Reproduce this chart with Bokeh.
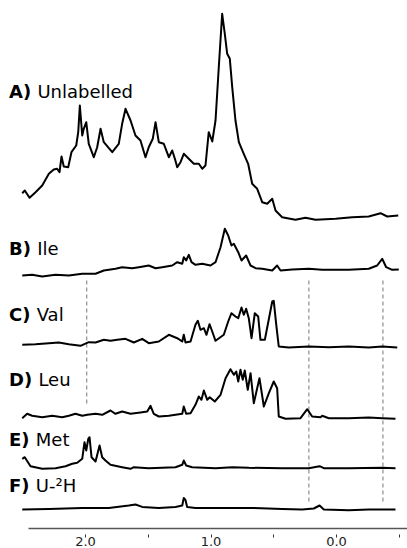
from bokeh.plotting import figure
from bokeh.models import Range1d, FixedTicker, Label, PrintfTickFormatter
from bokeh.embed import file_html
from bokeh.resources import INLINE

# ---------------- data (chemical shift in ppm, intensity) ----------------
ppm_A = [2.504, 2.484, 2.446, 2.398, 2.345, 2.292, 2.253, 2.226, 2.207, 2.191, 2.173, 2.138, 2.112, 2.074,
         2.058, 2.045, 2.026, 2.014, 1.994, 1.974, 1.934, 1.907, 1.880, 1.854, 1.787, 1.735, 1.708, 1.681,
         1.641, 1.602, 1.562, 1.522, 1.496, 1.464, 1.442, 1.416, 1.376, 1.336, 1.309, 1.288, 1.269, 1.243,
         1.217, 1.177, 1.137, 1.097, 1.070, 1.044, 1.018, 0.990, 0.964, 0.938, 0.911, 0.890, 0.871, 0.850,
         0.831, 0.805, 0.778, 0.739, 0.704, 0.672, 0.632, 0.592, 0.552, 0.512, 0.486, 0.433, 0.327, 0.247,
         0.167, 0.008, -0.125, -0.257, -0.351, -0.404, -0.492]
int_A = [25.3, 28, 20.7, 26.3, 33, 44.7, 49, 49.7, 46.3, 62, 52, 51.3, 66.3, 73,
         86.3, 113, 83, 89.7, 96.3, 74.7, 61.3, 71.3, 89.7, 76.3, 66.3, 74.7, 94.7, 109.7,
         98, 83, 78, 61.3, 71.3, 79.7, 96.3, 76.3, 74.7, 61.3, 68, 59.7, 51.3, 56.3,
         64.7, 59.7, 54.7, 54.7, 49.7, 53, 86.3, 77, 98, 151.3, 204.7, 184.7, 164.7, 159.7,
         131.3, 98, 76.3, 64.7, 54.7, 34.7, 29.7, 16.3, 14.7, 19.7, 8, 1.3, -1.3, 0.7,
         -1.3, -0.3, 1.3, 2, 5.3, 2, 3]

ppm_B = [2.504, 2.425, 2.345, 2.239, 2.133, 2.026, 1.920, 1.854, 1.761, 1.708, 1.628, 1.575, 1.496, 1.442,
         1.389, 1.309, 1.269, 1.229, 1.217, 1.198, 1.177, 1.155, 1.124, 1.070, 1.004, 0.964, 0.924, 0.890,
         0.863, 0.837, 0.818, 0.783, 0.757, 0.720, 0.685, 0.645, 0.592, 0.512, 0.473, 0.446, 0.353, 0.221,
         0.114, -0.098, -0.257, -0.324, -0.364, -0.396, -0.444, -0.496]
int_B = [-3, -2.3, -4, -2.3, -3, -1.3, -1.3, 2, 3.7, 5.3, 4.3, 5.3, 7, 4.3,
         5.3, 7, 10.3, 8.7, 15.3, 12, 17.7, 10.3, 7.7, 8.7, 7, 10.3, 25.3, 43.7,
         37, 27, 28.7, 20.3, 12, 17, 7, 4.3, 3.7, 2, 7, 2, 3, 3.7,
         2.7, 2.7, 3.7, 7, 13.7, 5.3, 2.7, 3]

ppm_C = [2.504, 2.398, 2.292, 2.213, 2.133, 2.040, 1.974, 1.920, 1.854, 1.801, 1.747, 1.681, 1.615, 1.548,
         1.496, 1.416, 1.336, 1.269, 1.229, 1.217, 1.203, 1.163, 1.124, 1.105, 1.084, 1.057, 1.036, 1.012,
         0.990, 0.964, 0.898, 0.863, 0.837, 0.805, 0.783, 0.757, 0.739, 0.720, 0.699, 0.677, 0.651, 0.624,
         0.606, 0.571, 0.512, 0.500, 0.480, 0.460, 0.380, 0.221, 0.061, -0.098, -0.257, -0.364, -0.484]
int_C = [1.7, 2.3, 3.3, 4, 2.3, 0.7, 4.3, 4, 6.7, 5.7, 6.7, 7.7, 4, 7.7,
         3.3, 5, 11.7, 8.3, 5, 11.7, 4, 5, 21.7, 25.7, 16.7, 18.3, 11.7, 22.3,
         15, 5.7, 11.7, 25, 33.3, 30, 28.3, 39, 31.7, 37.7, 28.3, 8.3, 33.3, 30,
         6.7, 6.7, 45, 45.7, 21.7, 0, -1, 0, -0.7, 0, -1, 0, -1]

ppm_D = [2.504, 2.465, 2.425, 2.345, 2.265, 2.186, 2.133, 2.080, 2.026, 1.986, 1.920, 1.867, 1.801, 1.761,
         1.708, 1.641, 1.562, 1.508, 1.482, 1.456, 1.416, 1.336, 1.229, 1.217, 1.198, 1.163, 1.124, 1.097,
         1.076, 1.057, 1.030, 1.010, 0.970, 0.924, 0.884, 0.845, 0.818, 0.799, 0.783, 0.765, 0.747, 0.731,
         0.707, 0.685, 0.659, 0.614, 0.579, 0.539, 0.500, 0.473, 0.460, 0.406, 0.287, 0.233, 0.194, 0.127,
         0.114, 0.061, -0.098, -0.257, -0.364, -0.470]
int_D = [0.3, 4.7, 2.7, 1.3, 2.7, 1.3, 2.7, 4.7, 2.7, 3.7, 4.7, 3.7, 8, 4.7,
         7, 4.7, 6, 7, 12.7, 4.7, 2, 2.7, 4.7, 12, 4.7, 5.3, 13.7, 22,
         18.7, 28, 18.7, 21.3, 17, 23.7, 40.3, 49.3, 43.7, 47, 37, 48.7, 38.7, 48,
         28.7, 45.3, 15.3, 40.3, 12, 25.3, 37, 30.3, 2, -0.3, 0.3, 9.3, 2, 1.3,
         2.7, 0.3, 0.3, 1, 0.3, -0.3]

ppm_E = [2.504, 2.484, 2.438, 2.345, 2.239, 2.159, 2.106, 2.066, 2.026, 2.008, 1.994, 1.978, 1.968, 1.952,
         1.920, 1.888, 1.867, 1.841, 1.801, 1.708, 1.641, 1.615, 1.496, 1.283, 1.229, 1.217, 1.198, 1.150,
         0.964, 0.831, 0.699, 0.433, 0.221, 0.135, 0.101, -0.098, -0.364, -0.470]
int_E = [9.7, 11.3, 2.3, -0.3, 0.3, 2.3, 4.7, 5.7, 9.7, 26.3, 18, 29.7, 31.3, 11.3,
         7, 23, 11.3, 8, 3.7, 1.3, -0.3, 1.3, 0.3, 1.3, 3.7, 8, 3, 1.3,
         0.3, 1.3, 0.7, 0.3, 0.3, 2.3, 0.3, 0.3, 0.7, 0.3]

ppm_F = [2.504, 2.292, 2.026, 1.814, 1.655, 1.602, 1.548, 1.416, 1.283, 1.229, 1.217, 1.203, 1.190, 1.124,
         0.964, 0.699, 0.433, 0.273, 0.181, 0.135, 0.101, -0.098, -0.257, -0.470]
int_F = [0, 0.6, 1.6, 1.6, 4, 5, 2.6, 1.6, 2.6, 4, 11.6, 9.3, 2.6, 1.6,
         1.6, 1.6, 0.6, 0, 1, 4, 0, -0.7, 0, 0]

label_bold = ["A)", "B)", "C)", "D)", "E)", "F)"]
label_name = ["Unlabelled", "Ile", "Val", "Leu", "Met", "U-\u00b2H"]

tick_major = [2.0, 1.0, 0.0]
tick_minor = [1.5, 0.5, -0.5]
marker_ppm = [1.99, 0.22, -0.37]

# ---------------- layout (not data) ----------------
X_LEFT, X_RIGHT = 2.6773, -0.5657
AXIS_START = 2.454
offsets = [310, 256, 182, 110, 60, 19]
label_y = [437, 280, 214, 149, 89, 43]
label_x0 = 8.5
label_dx = [28.4, 28.2, 27.7, 29.4, 26.8, 26.8]
dash_top = [248, 248, 248]
dash_bottom = [123, 26, 26]

FONT = "DejaVu Sans"

p = figure(width=407, height=548, x_range=Range1d(X_LEFT, X_RIGHT), y_range=Range1d(0, 528),
           output_backend="svg", toolbar_location=None, y_axis_location=None, min_border=0)
p.background_fill_color = "white"
p.border_fill_color = "white"
p.outline_line_color = None
p.grid.visible = False

ax = p.xaxis[0]
ax.ticker = FixedTicker(ticks=tick_major, minor_ticks=tick_minor)
ax.formatter = PrintfTickFormatter(format="%.1f")
ax.bounds = (AXIS_START, X_RIGHT)
ax.axis_line_color = "#555555"
ax.axis_line_width = 1.5
ax.major_tick_in = -6
ax.major_tick_out = 9
ax.minor_tick_in = -6
ax.minor_tick_out = 9
ax.major_tick_line_color = "#333333"
ax.minor_tick_line_color = "#333333"
ax.major_tick_line_width = 1
ax.minor_tick_line_width = 1
ax.major_label_standoff = -1
ax.major_label_text_font = FONT
ax.major_label_text_font_size = "13px"
ax.major_label_text_color = "#222222"

# dashed reference lines
p.segment(x0=marker_ppm, y0=dash_top, x1=marker_ppm, y1=dash_bottom,
          line_color="#777777", line_width=1, line_dash="4 3")

series = [(ppm_A, int_A), (ppm_B, int_B), (ppm_C, int_C), (ppm_D, int_D), (ppm_E, int_E), (ppm_F, int_F)]
for (xs, ys), off in zip(series, offsets):
    p.line(xs, [off + v for v in ys], line_color="black", line_width=2, line_join="round")

for b, n, y, dx in zip(label_bold, label_name, label_y, label_dx):
    p.add_layout(Label(x=X_LEFT, y=y, text=b, x_offset=label_x0, text_font=FONT, text_font_style="bold",
                       text_font_size="18px", text_baseline="alphabetic", text_align="left",
                       text_color="black"))
    p.add_layout(Label(x=X_LEFT, y=y, text=n, x_offset=label_x0 + dx, text_font=FONT,
                       text_font_size="18px", text_baseline="alphabetic", text_align="left",
                       text_color="black"))

open("out.html", "w").write(file_html(p, INLINE))
